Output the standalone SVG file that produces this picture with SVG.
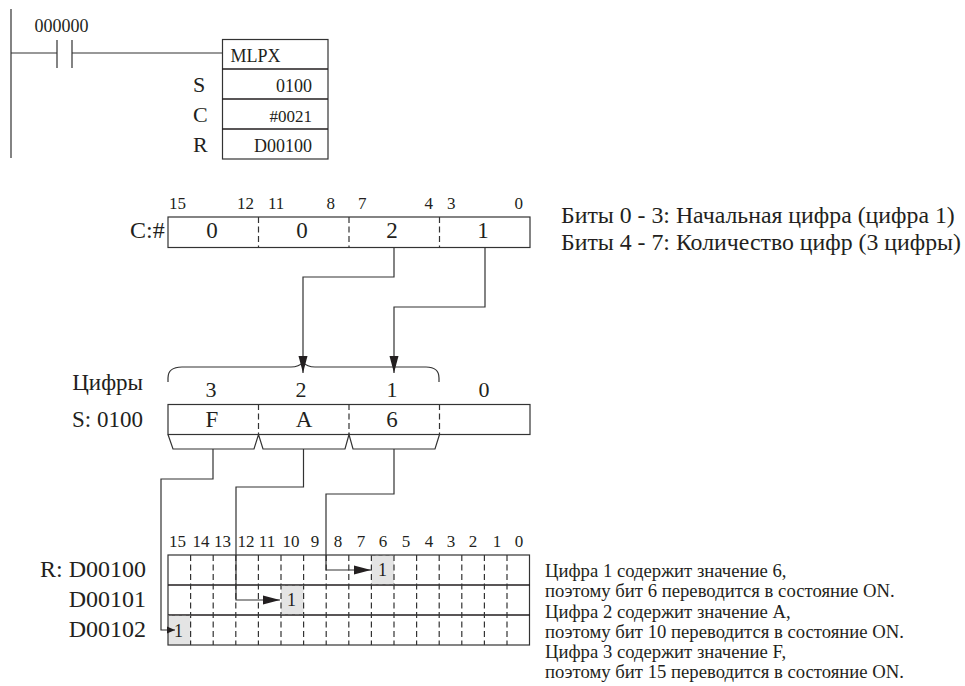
<svg xmlns="http://www.w3.org/2000/svg" width="965" height="686" viewBox="0 0 965 686">
<defs>
<marker id="a" markerUnits="userSpaceOnUse" markerWidth="17" markerHeight="10" refX="17" refY="5" orient="auto"><path d="M0 0.500L17 5L0 9.500Z" fill="#231f20"/></marker>
<marker id="b" markerUnits="userSpaceOnUse" markerWidth="8" markerHeight="8" refX="8" refY="4" orient="auto"><path d="M0 0.500L8 4L0 7.500Z" fill="#231f20"/></marker>
</defs>
<style>
text{font-family:"Liberation Serif","Times New Roman",serif;fill:#231f20}
.l{fill:none;stroke:#333;stroke-width:1.2}
.t{stroke:#231f20;stroke-width:1.7}
.d{fill:none;stroke:#333;stroke-width:1.2;stroke-dasharray:6 3.500}
.g{fill:#e4e4e4}
.gd{fill:none;stroke:#666;stroke-width:1;stroke-dasharray:4 3}
.s17{font-size:17px}.s18{font-size:18px}.s187{font-size:18.700px}.s22{font-size:22px}.s23{font-size:23px}.s24{font-size:24px}.s238{font-size:23.800px}
.m{text-anchor:middle}.e{text-anchor:end}
</style>
<rect width="965" height="686" fill="#fff"/>
<g id="ladder">
<path class="l" d="M11 9V158M11 53H57M57 40V68M72 40V68M72 53H222"/>
<text class="s18" x="34.500" y="32">000000</text>
</g>
<g id="mlpx">
<rect class="l" x="222.500" y="39.500" width="105.500" height="119.500"/>
<path class="l t" d="M222 69H328M222 99H328M222 129H328"/>
<text class="s18" x="230.500" y="62">MLPX</text>
<text class="s18 e" x="312" y="92">0100</text>
<text class="s17 e" x="312" y="122">#0021</text>
<text class="s18 e" x="312" y="152">D00100</text>
<text class="s22" x="193" y="92">S</text>
<text class="s22" x="193" y="122">C</text>
<text class="s22" x="193" y="152">R</text>
</g>
<g id="c-word">
<rect class="l" x="168" y="217" width="362" height="30.500"/>
<path class="d" d="M258.500 217V247M349 217V247M439.500 217V247"/>
<text class="s24" x="130" y="238">C:#</text>
<text class="s17" x="169" y="209">15</text><text class="s17 e" x="254" y="209">12</text>
<text class="s17" x="268" y="209">11</text><text class="s17 e" x="335" y="209">8</text>
<text class="s17" x="358" y="209">7</text><text class="s17 e" x="433" y="209">4</text>
<text class="s17" x="447" y="209">3</text><text class="s17 e" x="523" y="209">0</text>
<text class="s23 m" x="212" y="238">0</text><text class="s23 m" x="302" y="238">0</text>
<text class="s23 m" x="392" y="238">2</text><text class="s23 m" x="483" y="238">1</text>
</g>
<g id="c-note">
<text class="s238" x="561" y="223">Биты 0 - 3: Начальная цифра (цифра 1)</text>
<text class="s238" x="561" y="250">Биты 4 - 7: Количество цифр (3 цифры)</text>
</g>
<g id="s-word">
<path class="l" d="M168 382V378Q168 367 182 367H291Q299 367 303 362Q307 367 315 367H426Q439 367 439 378V382"/>
<rect class="l" x="168" y="404.500" width="362" height="30"/>
<path class="d" d="M258.500 404V434M349 404V434M439.500 404V434"/>
<path class="l" d="M168 434.500L173 449H254L258.500 434.500L263 449H345L349 434.500L353 449H435L439.500 434.500"/>
<text class="s23 e" x="143" y="390">Цифры</text>
<text class="s23 e" x="143" y="427">S: 0100</text>
<text class="s22 m" x="211" y="397">3</text><text class="s22 m" x="301" y="397">2</text>
<text class="s22 m" x="392" y="397">1</text><text class="s22 m" x="484" y="397">0</text>
<text class="s23 m" x="212" y="427">F</text><text class="s23 m" x="304" y="427">A</text>
<text class="s23 m" x="392" y="427">6</text>
</g>
<g id="r-grid">
<rect class="g" x="371.500" y="555.500" width="22.500" height="29"/>
<rect class="g" x="281" y="585.500" width="22.600" height="29"/>
<rect class="g" x="168" y="615.500" width="22.600" height="29"/>
<rect class="l" x="168" y="555" width="361.500" height="90"/>
<path class="l t" d="M168 585H530M168 615H530"/>
<path class="d" d="M190.600 555V645M213.200 555V645M235.800 555V645M258.400 555V645M281 555V645M303.600 555V645M326.200 555V645M348.800 555V645M371.400 555V645M394 555V645M416.600 555V645M439.200 555V645M461.800 555V645M484.400 555V645M507 555V645"/>
<path class="gd" d="M371.500 555.500H394M371.500 584.500H394M281 585.500H303.600M281 614.500H303.600M168 615.500H190.600"/>
<text class="s17 m" x="177.500" y="547">15</text><text class="s17 m" x="201" y="547">14</text><text class="s17 m" x="222.500" y="547">13</text><text class="s17 m" x="246" y="547">12</text><text class="s17 m" x="267" y="547">11</text><text class="s17 m" x="291" y="547">10</text><text class="s17 m" x="315" y="547">9</text><text class="s17 m" x="338" y="547">8</text><text class="s17 m" x="361" y="547">7</text><text class="s17 m" x="383" y="547">6</text><text class="s17 m" x="406" y="547">5</text><text class="s17 m" x="429" y="547">4</text><text class="s17 m" x="451" y="547">3</text><text class="s17 m" x="473" y="547">2</text><text class="s17 m" x="497" y="547">1</text><text class="s17 m" x="519" y="547">0</text>
<text class="s18" x="378" y="576">1</text><text class="s18" x="287" y="606">1</text><text class="s18" x="174" y="637">1</text>
<text class="s24 e" x="146" y="577">R: D00100</text>
<text class="s24 e" x="146" y="607">D00101</text>
<text class="s24 e" x="146" y="637">D00102</text>
</g>
<g id="r-note">
<text class="s187" x="545" y="577">Цифра 1 содержит значение 6,</text>
<text class="s187" x="545" y="597">поэтому бит 6 переводится в состояние ON.</text>
<text class="s187" x="545" y="618">Цифра 2 содержит значение A,</text>
<text class="s187" x="545" y="638">поэтому бит 10 переводится в состояние ON.</text>
<text class="s187" x="545" y="658">Цифра 3 содержит значение F,</text>
<text class="s187" x="545" y="678">поэтому бит 15 переводится в состояние ON.</text>
</g>
<g id="connectors">
<path class="l" marker-end="url(#a)" d="M394 247V277H303V373"/>
<path class="l" marker-end="url(#a)" d="M485 247V307H394V373"/>
<path class="l" marker-end="url(#b)" d="M213 449V479H161V630H175"/>
<path class="l" marker-end="url(#a)" d="M303.500 449V487H236V600H280"/>
<path class="l" marker-end="url(#a)" d="M394 449V494H326V570H371"/>
</g>
</svg>
